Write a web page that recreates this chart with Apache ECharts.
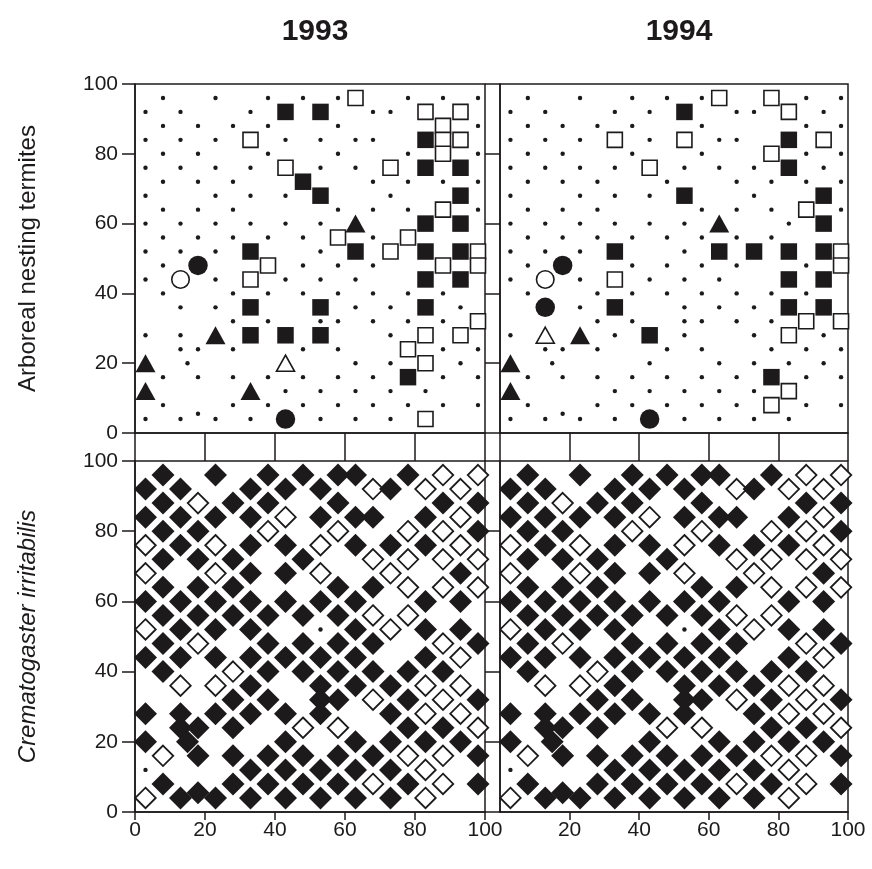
<!DOCTYPE html>
<html>
<head>
<meta charset="utf-8">
<script src="https://cdn.jsdelivr.net/npm/echarts@6/dist/echarts.min.js"></script>
<style>
html,body{margin:0;padding:0;background:#fff;}
#main{width:872px;height:869px;}
</style>
</head>
<body>
<div id="main"></div>
<script>
// tick labels
var ticks = [0, 20, 40, 60, 80, 100];
var years = ['1993', '1994'];

// tree positions in the plot (same in all four panels)
var trees = [
  [8,96],[23,96],[38,96],[48,96],[58,96],[63,96],[78,96],[88,96],[98,96],
  [3,92],[13,92],[33,92],[43,92],[53,92],[68,92],[73,92],[83,92],[93,92],
  [8,88],[18,88],[28,88],[38,88],[58,88],[88,88],[98,88],
  [3,84],[13,84],[23,84],[33,84],[43,84],[53,84],[63,84],[68,84],[83,84],[93,84],
  [8,80],[18,80],[38,80],[58,80],[78,80],[88,80],[98,80],
  [3,76],[13,76],[23,76],[33,76],[43,76],[53,76],[63,76],[73,76],[83,76],[93,76],
  [8,72],[18,72],[28,72],[48,72],[68,72],[78,72],[88,72],[98,72],
  [3,68],[23,68],[33,68],[43,68],[53,68],[73,68],[93,68],
  [8,64],[18,64],[28,64],[58,64],[68,64],[78,64],[88,64],[98,64],
  [3,60],[13,60],[23,60],[33,60],[43,60],[53,60],[63,60],[83,60],[93,60],
  [8,56],[18,56],[28,56],[38,56],[48,56],[58,56],[68,56],[78,56],
  [3,52],[13,52],[23,52],[33,52],[53,52],[63,52],[73,52],[83,52],[93,52],
  [8,48],[18,48],[38,48],[48,48],[58,48],[68,48],[88,48],[98,48],
  [3,44],[13,44],[23,44],[33,44],[43,44],[53,44],[63,44],[83,44],[93,44],
  [8,40],[28,40],[38,40],[48,40],[58,40],[68,40],[78,40],[88,40],
  [13,36],[23,36],[33,36],[53,36],[63,36],[73,36],[83,36],[93,36],
  [28,32],[38,32],[53,32],[58,32],[68,32],[78,32],[88,32],[98,32],
  [3,28],[13,28],[23,28],[33,28],[43,28],[53,28],[73,28],[83,28],[93,28],
  [13,24],[18,24],[28,24],[48,24],[58,24],[78,24],[88,24],[98,24],
  [3,20],[15,20],[43,20],[63,20],[73,20],[83,20],[93,20],
  [8,16],[18,16],[28,16],[38,16],[48,16],[58,16],[68,16],[78,16],[88,16],[98,16],
  [3,12],[33,12],[43,12],[53,12],[63,12],[73,12],[83,12],
  [8,8],[28,8],[38,8],[48,8],[58,8],[68,8],[78,8],[88,8],[98,8],
  [3,4],[13,4],[18,5.5],[23,4],[33,4],[43,4],[53,4],[63,4],[73,4],[83,4]
];

// arboreal nesting termites 1993
var sqOpen93 = [[63,96],[83,92],[93,92],[88,88],[33,84],[88,84],[93,84],[88,80],[43,76],[73,76],
  [88,64],[58,56],[78,56],[73,52],[98,52],[38,48],[88,48],[98,48],[33,44],[98,32],
  [83,28],[93,28],[78,24],[83,20],[83,4]];
var sqFill93 = [[43,92],[53,92],[83,84],[83,76],[93,76],[48,72],[53,68],[93,68],[83,60],[93,60],
  [33,52],[63,52],[83,52],[93,52],[83,44],[93,44],[33,36],[53,36],[83,36],[33,28],
  [43,28],[53,28],[78,16]];
var circFill93 = [[18,48],[43,4]];
var circOpen93 = [[13,44]];
var triFill93 = [[63,60],[23,28],[3,20],[3,12],[33,12]];
var triOpen93 = [[43,20]];

// arboreal nesting termites 1994
var sqOpen94 = [[63,96],[78,96],[83,92],[33,84],[53,84],[93,84],[78,80],[43,76],[88,64],[98,52],
  [98,48],[33,44],[88,32],[98,32],[83,28],[83,12],[78,8]];
var sqFill94 = [[53,92],[83,84],[83,76],[53,68],[93,68],[93,60],[33,52],[63,52],[73,52],[83,52],
  [93,52],[83,44],[93,44],[33,36],[83,36],[93,36],[43,28],[78,16]];
var circFill94 = [[18,48],[13,36],[43,4]];
var circOpen94 = [[13,44]];
var triFill94 = [[63,60],[23,28],[3,20],[3,12]];
var triOpen94 = [[13,28]];

// Crematogaster irritabilis: open diamonds and empty trees
var diaOpen93 = [[88,96],[98,96],[68,92],[83,92],[93,92],[18,88],[43,84],[93,84],
  [38,80],[58,80],[78,80],[88,80],[3,76],[23,76],[53,76],[93,76],
  [68,72],[78,72],[88,72],[98,72],[3,68],[23,68],[53,68],[73,68],
  [78,64],[88,64],[98,64],[68,56],[78,56],[3,52],[73,52],[18,48],[88,48],
  [93,44],[28,40],[13,36],[23,36],[83,36],[93,36],[68,32],[88,32],
  [83,28],[93,28],[48,24],[58,24],[98,24],[8,16],[78,16],[88,16],
  [83,12],[68,8],[88,8],[3,4],[83,4]];
var empty93 = [[53,52],[3,12]];
var diaOpen94 = [[88,96],[98,96],[68,92],[83,92],[93,92],[18,88],[43,84],[93,84],
  [38,80],[58,80],[78,80],[88,80],[3,76],[23,76],[53,76],[93,76],
  [68,72],[78,72],[88,72],[98,72],[3,68],[23,68],[53,68],[73,68],
  [78,64],[88,64],[98,64],[68,56],[78,56],[3,52],[73,52],[18,48],[88,48],
  [93,44],[28,40],[13,36],[23,36],[83,36],[93,36],[68,32],[88,32],
  [83,28],[93,28],[48,24],[58,24],[98,24],[8,16],[78,16],[88,16],
  [83,12],[68,8],[88,8],[3,4],[83,4]];
var empty94 = [[53,52],[3,12]];

var ink = '#1c1a1b';
var font = '"Liberation Sans", Arial, sans-serif';

function without(list) {
  var rest = Array.prototype.slice.call(arguments, 1);
  return list.filter(function (p) {
    return !rest.some(function (ex) {
      return ex.some(function (q) { return q[0] === p[0] && q[1] === p[1]; });
    });
  });
}

function pts(data, grid, symbol, size, filled, bw) {
  return {
    type: 'scatter', xAxisIndex: grid, yAxisIndex: grid, data: data,
    symbol: symbol, symbolSize: size, silent: true,
    itemStyle: {color: filled ? ink : '#fff', borderColor: ink, borderWidth: bw || 0, opacity: 1}
  };
}

function termites(g, sqO, sqF, cF, cO, tF, tO) {
  var dots = without(trees, sqO, sqF, cF, cO, tF, tO);
  return [
    pts(dots, g, 'circle', 4.4, true),
    pts(sqO, g, 'rect', 15, false, 1.6),
    pts(sqF, g, 'rect', 16.5, true, 0),
    pts(cF, g, 'circle', 19.5, true, 0),
    pts(cO, g, 'circle', 17.5, false, 1.6),
    pts(tF, g, 'triangle', [20, 18], true, 0),
    pts(tO, g, 'triangle', [18, 16], false, 1.6)
  ];
}

function ants(g, open, empty) {
  var filled = without(trees, open, empty);
  return [
    pts(empty, g, 'circle', 4.4, true),
    pts(open, g, 'diamond', [20.5, 20.5], false, 1.8),
    pts(filled, g, 'diamond', [23, 23], true, 0)
  ];
}

var grids = [
  {left: 135, top: 84, width: 350, height: 349},
  {left: 500, top: 84, width: 348, height: 349},
  {left: 135, top: 461, width: 350, height: 351},
  {left: 500, top: 461, width: 348, height: 351}
];
grids.forEach(function (g) {
  g.show = true; g.borderColor = ink; g.borderWidth = 1.5; g.containLabel = false;
});

var xAxes = [], yAxes = [];
grids.forEach(function (g, i) {
  var bottom = i >= 2, left = i % 2 === 0;
  xAxes.push({
    gridIndex: i, type: 'value', min: 0, max: 100, interval: 20,
    axisLine: {show: true, onZero: false, lineStyle: {color: ink, width: 1.5}},
    axisTick: {show: true, inside: false, length: bottom ? 8 : 28, lineStyle: {color: ink, width: 1.5}},
    axisLabel: {show: bottom, margin: 8, fontSize: 21, color: ink, fontFamily: font, showMinLabel: left},
    splitLine: {show: false}
  });
  yAxes.push({
    gridIndex: i, type: 'value', min: 0, max: 100, interval: 20,
    name: left ? (bottom ? 'Crematogaster irritabilis' : 'Arboreal nesting termites') : '',
    nameLocation: 'middle', nameGap: 95,
    nameTextStyle: {fontSize: 24, color: ink, fontFamily: font, fontStyle: bottom ? 'italic' : 'normal'},
    axisLine: {show: true, onZero: false, lineStyle: {color: ink, width: 1.5}},
    axisTick: {show: true, inside: false, length: left ? 13 : 15, lineStyle: {color: ink, width: 1.5}},
    axisLabel: {show: left, margin: 17, fontSize: 21, color: ink, fontFamily: font},
    splitLine: {show: false}
  });
});

var series = []
  .concat(termites(0, sqOpen93, sqFill93, circFill93, circOpen93, triFill93, triOpen93))
  .concat(termites(1, sqOpen94, sqFill94, circFill94, circOpen94, triFill94, triOpen94))
  .concat(ants(2, diaOpen93, empty93))
  .concat(ants(3, diaOpen94, empty94));

var myChart = echarts.init(document.getElementById('main'));
myChart.setOption({
  animation: false,
  backgroundColor: '#fff',
  title: [
    {text: years[0], left: 310, top: 12, textAlign: 'center',
      textStyle: {fontSize: 30, fontWeight: 'bold', color: ink, fontFamily: font}},
    {text: years[1], left: 674, top: 12, textAlign: 'center',
      textStyle: {fontSize: 30, fontWeight: 'bold', color: ink, fontFamily: font}}
  ],
  grid: grids,
  xAxis: xAxes,
  yAxis: yAxes,
  series: series
});
</script>
</body>
</html>
